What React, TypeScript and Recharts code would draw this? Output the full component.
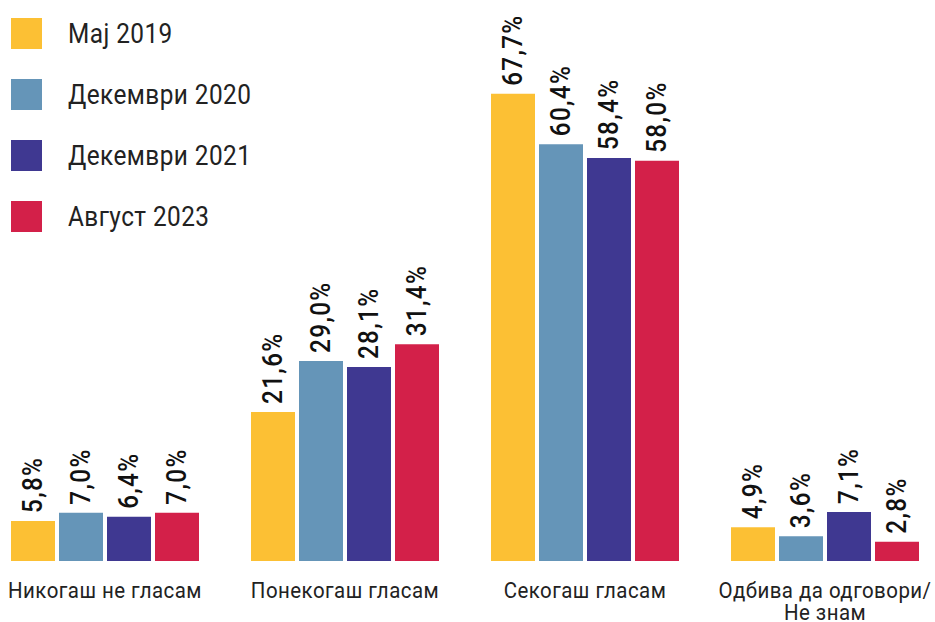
import { BarChart, Bar, XAxis, YAxis, LabelList } from "recharts";

const categories = [
  "Никогаш не гласам",
  "Понекогаш гласам",
  "Секогаш гласам",
  "Одбива да одговори/ Не знам",
];
const seriesNames = ["Мај 2019", "Декември 2020", "Декември 2021", "Август 2023"];
const colors = ["#FCC034", "#6595B8", "#3F3891", "#D32049"];
const may2019 = [5.8, 21.6, 67.7, 4.9];
const dec2020 = [7.0, 29.0, 60.4, 3.6];
const dec2021 = [6.4, 28.1, 58.4, 7.1];
const aug2023 = [7.0, 31.4, 58.0, 2.8];

const keys = ["s0", "s1", "s2", "s3"];
const data = categories.map((name, i) => ({
  name,
  s0: may2019[i],
  s1: dec2020[i],
  s2: dec2021[i],
  s3: aug2023[i],
}));

const FONT = "Roboto, sans-serif";

const fmt = (v: number) => v.toFixed(1).replace(".", ",") + "%";

// rotated value above each bar; squeezed a bit along the text to look condensed
const ValueLabel = (props: any) => {
  const { x, y, width, value } = props;
  const cx = x + width / 2;
  const ty = y - 8;
  return (
    <text
      x={0}
      y={0}
      transform={`translate(${cx}, ${ty}) rotate(-90) scale(0.9, 1)`}
      textAnchor="start"
      dominantBaseline="central"
      fontFamily={FONT}
      fontWeight={500}
      fontSize={27}
      letterSpacing={1.5}
      fill="#111"
    >
      {fmt(value)}
    </text>
  );
};

const CategoryTick = (props: any) => {
  const { x, y, payload } = props;
  const parts = String(payload.value).split("/ ");
  const lines = parts.length > 1 ? [parts[0] + "/", parts[1]] : parts;
  return (
    <text
      x={0}
      y={0}
      transform={`translate(${x}, ${y + 37}) scale(0.93, 1)`}
      textAnchor="middle"
      fontFamily={FONT}
      fontSize={22}
      letterSpacing={0.5}
      fill="#222"
    >
      {lines.map((l, i) => (
        <tspan key={i} x={0} dy={i === 0 ? 0 : 22}>
          {l}
        </tspan>
      ))}
    </text>
  );
};

function ChartLegend() {
  return (
    <div style={{ position: "absolute", left: 26, top: 18 }}>
      {seriesNames.map((n, i) => (
        <div
          key={n}
          style={{ display: "flex", alignItems: "center", height: 31, marginBottom: 30 }}
        >
          <div style={{ width: 31, height: 31, background: colors[i] }} />
          <span
            style={{
              marginLeft: 26,
              fontFamily: FONT,
              fontSize: 28,
              color: "#222",
              letterSpacing: 0.5,
              whiteSpace: "nowrap",
              display: "inline-block",
              transform: "scaleX(0.87)",
              transformOrigin: "left center",
            }}
          >
            {n}
          </span>
        </div>
      ))}
    </div>
  );
}

export default function App() {
  return (
    <div
      style={{
        position: "absolute",
        left: -15,
        top: 0,
        width: 950,
        height: 622,
        overflow: "hidden",
        background: "#fff",
      }}
    >
      <BarChart
        width={960}
        height={622}
        data={data}
        margin={{ top: 78, right: 0, left: 0, bottom: 0 }}
        barSize={44}
        barGap={4}
        barCategoryGap={26}
      >
        <XAxis
          dataKey="name"
          axisLine={false}
          tickLine={false}
          tickSize={0}
          tickMargin={0}
          height={61}
          interval={0}
          tick={<CategoryTick />}
        />
        <YAxis hide domain={[0, 70]} />
        {keys.map((k, i) => (
          <Bar key={k} dataKey={k} name={seriesNames[i]} fill={colors[i]} isAnimationActive={false}>
            <LabelList dataKey={k} content={<ValueLabel />} />
          </Bar>
        ))}
      </BarChart>
      <ChartLegend />
    </div>
  );
}
